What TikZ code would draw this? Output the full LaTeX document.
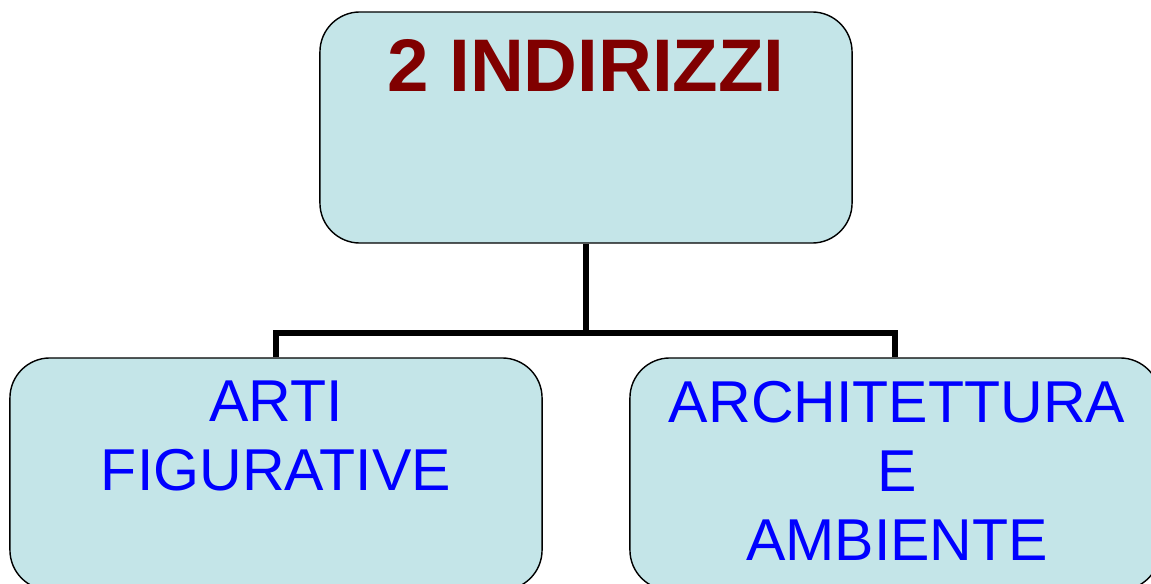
\documentclass[tikz,border=0pt]{standalone}
\usepackage{fontspec}
\setmainfont{Liberation Sans}
\usepackage{xcolor}
\definecolor{boxFill}{RGB}{196, 229, 232}
\definecolor{titleRed}{RGB}{128, 0, 0}
\definecolor{labelBlue}{RGB}{0, 0, 255}

\tikzset{
  indirizzoBox/.style={rectangle, draw=black, line width=1pt, fill=boxFill, rounded corners=1cm, minimum height=5.8cm},
  labelText/.style={inner sep=0pt, align=center, text=labelBlue, font=\fontsize{42}{49}\selectfont},
  connector/.style={line width=3.6pt, black}
}

\begin{document}
\begin{tikzpicture}[x=0.025cm, y=-0.025cm]
                    \path[use as bounding box, clip] (0, 0) rectangle (1151, 584);
                    \node[indirizzoBox, minimum width=13.3cm, minimum height=5.775cm] (indirizzi) at (586, 127.5) {};
                    \node[indirizzoBox, minimum width=13.3cm] (arti) at (276, 474) {};
                    \node[indirizzoBox, minimum width=13.25cm] (architettura) at (895, 474) {};

                    \node[inner sep=0pt, anchor=north, text=titleRed, font=\fontsize{53}{60}\selectfont\bfseries] (titolo) at (586, 39) {2 INDIRIZZI};
                    \node[labelText, anchor=north] (artiText) at (276, 381) {ARTI\\FIGURATIVE};
                    \node[labelText, anchor=north] (architetturaText) at (897, 381) {ARCHITETTURA\\E\\AMBIENTE};

                    \coordinate (junction) at (586, 333);
                    \draw[connector] (indirizzi.south) -- (junction);
                    \draw[connector] (arti.north) |- (junction) -| (architettura.north);
                \end{tikzpicture}
\end{document}
